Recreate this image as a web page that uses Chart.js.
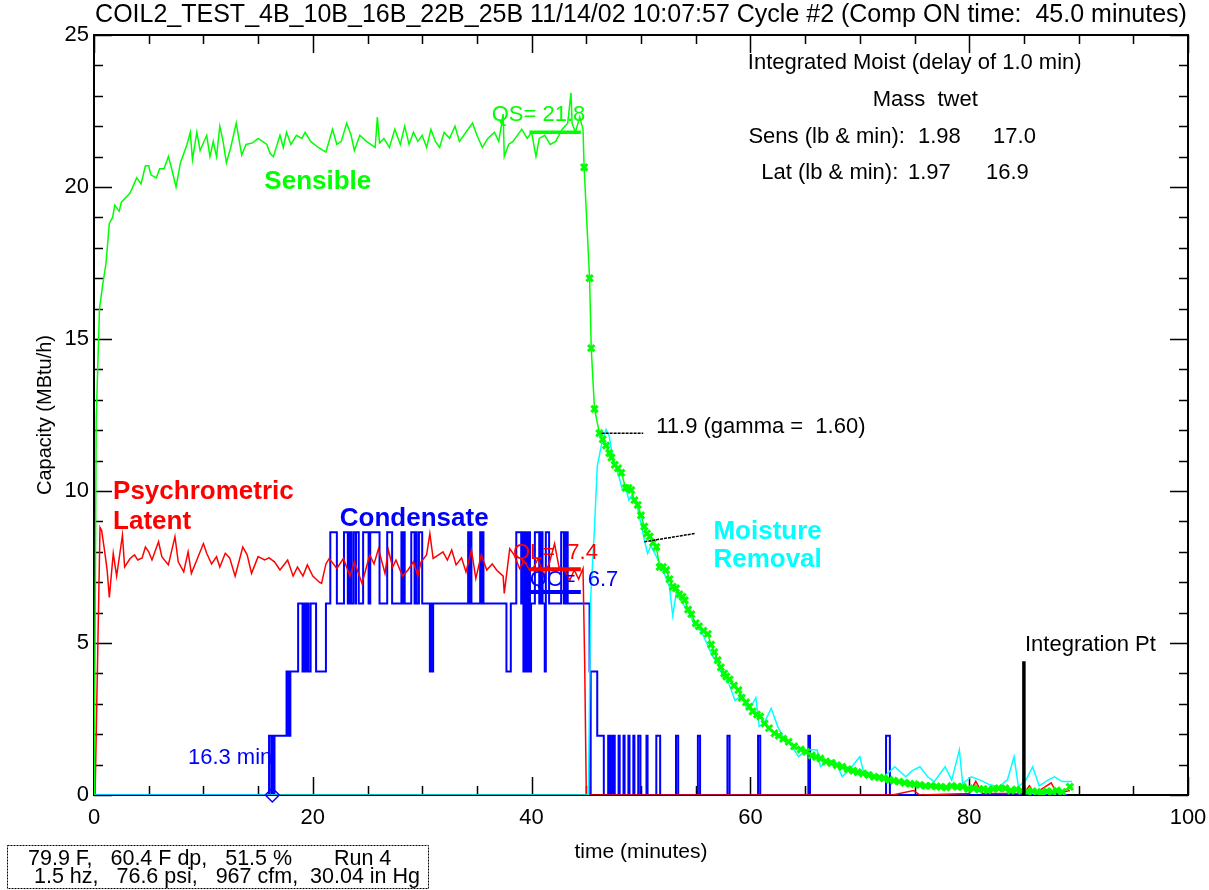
<!DOCTYPE html>
<html>
<head>
<meta charset="utf-8">
<title>COIL2_TEST Cycle #2</title>
<script src="https://cdn.jsdelivr.net/npm/chart.js@4.4.1/dist/chart.umd.min.js"></script>
<style>
  html, body { margin: 0; padding: 0; background: #fff; }
  canvas { display: block; }
</style>
</head>
<body>
<canvas id="chart" width="1209" height="890"></canvas>
<script>
// time in minutes, capacity in MBtu/h
const sensT = [0, 0.05, 0.2, 0.5, 0.8, 1.1, 1.4, 1.7, 1.9, 2.3, 2.5, 3.3, 3.9, 4.3, 4.7, 5.0, 5.2, 5.7, 6.0, 6.4,
    6.8, 7.1, 7.5, 7.9, 8.5, 8.8, 9.0, 9.4, 9.7, 10.3, 10.6, 10.9, 11.2, 11.5, 11.8, 12.1, 12.5, 13.0, 13.5, 13.9,
    14.5, 15.0, 15.4, 15.8, 16.1, 16.4, 17.0, 17.3, 17.6, 18.0, 18.5, 19.0, 19.3, 19.8, 20.5, 21.2, 21.8, 22.2, 22.6, 23.1,
    23.5, 23.8, 24.3, 24.9, 25.7, 25.9, 26.1, 26.5, 27.0, 27.5, 28.0, 28.4, 28.8, 29.2, 29.6, 30.0, 30.4, 30.8, 31.2, 31.6,
    32.0, 32.5, 33.0, 33.4, 34.0, 34.6, 35.0, 35.5, 36.0, 36.6, 37.0, 37.4, 37.5, 37.9, 38.3, 38.7, 39.1, 39.6, 40.0, 40.4,
    40.7, 41.2, 41.7, 42.2, 42.8, 43.3, 43.6, 43.7, 44.0, 44.4, 44.7, 44.8];
const sensV = [0, 2, 12.3, 16.0, 16.8, 17.5, 18.8, 19.0, 19.4, 19.2, 19.5, 19.8, 20.3, 20.1, 20.7, 20.7, 20.4, 20.3, 20.6, 20.6,
    21.0, 20.6, 20.0, 20.8, 21.4, 21.8, 20.9, 21.8, 21.2, 21.7, 21.0, 21.5, 21.0, 22.0, 21.5, 20.8, 21.3, 22.1, 21.05, 21.4,
    21.45, 21.6, 21.5, 21.4, 21.1, 21.0, 21.7, 21.3, 21.8, 21.4, 21.7, 21.6, 21.8, 21.5, 21.3, 21.15, 21.9, 21.4, 21.5, 22.1,
    21.7, 21.2, 21.7, 21.5, 21.3, 22.3, 21.45, 21.6, 21.3, 21.9, 21.4, 22.0, 21.4, 21.8, 21.5, 21.7, 21.3, 21.9, 21.5, 21.3,
    21.8, 21.6, 22.0, 21.5, 21.8, 22.1, 21.7, 21.3, 21.6, 21.8, 21.5, 22.4, 21.0, 21.4, 21.5, 21.7, 21.9, 21.6, 21.8, 21.0,
    21.6, 21.7, 21.4, 21.5, 21.9, 22.1, 23.1, 22.1, 21.8, 22.3, 21.9, 20.65];

// sensible after compressor off (drawn with markers)
const sensOffT = [44.8, 45.3, 45.45, 45.75, 46.2, 46.5, 46.8, 47.1, 47.3, 47.6, 47.9, 48.2, 48.6, 48.85, 49.1, 49.4, 49.7, 50.0,
    50.3, 50.55, 50.8, 51.1, 51.4, 51.7, 52.0, 52.3, 52.6, 52.9, 53.2, 53.5, 53.8, 54.0, 54.3, 54.6, 55.0, 55.3, 55.7, 56.1,
    56.4, 56.7, 57.0, 57.3, 57.6, 57.8, 58.1, 58.5, 58.9, 59.2, 59.6, 59.9, 60.2, 60.6, 60.9, 61.3, 61.7, 62.2, 62.6, 63.0,
    63.5, 64.0, 64.6, 65.1, 65.6, 66.0, 66.4, 66.9, 67.4, 67.9, 68.4, 68.9, 69.4, 69.8, 70.3, 70.8, 71.3, 71.8, 72.2, 72.7,
    73.1, 73.6, 74.1, 74.6, 75.0, 75.5, 76.0, 76.5, 77.0, 77.4, 77.9, 78.4, 78.9, 79.4, 79.9, 80.4, 80.9, 81.3, 81.7, 82.2,
    82.7, 83.3, 83.8, 84.3, 84.8, 85.3, 85.8, 86.2, 86.6, 87.1, 87.6, 88.0, 88.5, 89.2];
const sensOffV = [20.65, 17.0, 14.7, 12.7, 11.9, 11.7, 11.5, 11.25, 11.1, 10.86, 10.75, 10.6, 10.1, 10.1, 10.03, 9.7, 9.54, 9.2,
    8.83, 8.6, 8.5, 8.3, 8.16, 7.5, 7.5, 7.4, 7.1, 6.85, 6.8, 6.6, 6.52, 6.41, 6.1, 5.95, 5.65, 5.55, 5.4, 5.3,
    4.95, 4.7, 4.44, 4.2, 4.0, 3.9, 3.8, 3.6, 3.45, 3.2, 3.05, 2.9, 2.75, 2.65, 2.58, 2.35, 2.2, 2.03, 1.95, 1.85,
    1.75, 1.6, 1.5, 1.42, 1.3, 1.25, 1.2, 1.1, 1.05, 0.98, 0.93, 0.85, 0.8, 0.75, 0.71, 0.66, 0.6, 0.58, 0.55, 0.5,
    0.47, 0.44, 0.4, 0.37, 0.35, 0.33, 0.3, 0.3, 0.28, 0.27, 0.25, 0.3, 0.27, 0.27, 0.2, 0.22, 0.18, 0.2, 0.16, 0.2,
    0.22, 0.22, 0.15, 0.18, 0.14, 0.11, 0.12, 0.1, 0.08, 0.12, 0.1, 0.15, 0.1, 0.27];

const latT = [0, 0.1, 0.55, 0.7, 1.0, 1.2, 1.4, 1.76, 2.07, 2.6, 2.8, 3.3, 3.7, 4.0, 4.4, 4.7, 5.0, 5.3, 5.9, 6.2,
    6.8, 7.4, 7.7, 8.2, 8.6, 8.9, 9.4, 10.0, 10.3, 10.75, 11.2, 11.5, 12.0, 12.4, 12.9, 13.6, 14.0, 14.4, 15.0, 15.6,
    16.0, 16.5, 17.0, 17.7, 18.2, 18.6, 19.1, 19.5, 20.0, 20.6, 20.8, 21.2, 21.5, 22.2, 22.8, 23.4, 23.8, 24.5, 25.2, 25.6,
    26.0, 26.6, 26.9, 27.3, 27.6, 28.2, 28.7, 29.2, 29.6, 29.9, 30.4, 30.7, 31.0, 31.5, 31.9, 32.3, 32.7, 33.1, 33.6, 34.0,
    34.5, 34.9, 35.4, 35.9, 36.4, 36.8, 37.4, 37.5, 38.0, 38.4, 38.9, 39.3, 39.8, 40.2, 40.6, 41.1, 41.6, 42.1, 42.5, 43.0,
    43.5, 43.9, 44.3, 44.7, 44.85, 45.0, 73.0, 74.9, 75.5, 80.0, 80.6, 81.2, 85.0, 85.5, 86.0, 87.5, 88.0, 89.2];
const latV = [0, 0, 8.8, 8.7, 7.95, 7.4, 6.5, 7.95, 7.2, 8.55, 7.5, 7.78, 7.9, 7.73, 7.8, 8.16, 8.0, 7.73, 8.33, 7.84,
    7.57, 8.5, 7.67, 7.34, 8.0, 7.29, 7.73, 8.27, 7.95, 7.6, 7.84, 7.5, 7.95, 7.8, 7.2, 8.16, 7.9, 7.29, 7.84, 7.73,
    7.8, 7.67, 7.4, 7.73, 7.2, 7.5, 7.2, 7.57, 7.2, 7.0, 6.96, 7.6, 7.78, 7.45, 7.78, 7.2, 7.67, 6.96, 7.9, 7.6,
    8.1, 7.29, 8.06, 7.5, 7.73, 7.2, 7.4, 7.67, 7.2, 7.67, 7.9, 8.6, 7.78, 7.9, 8.0, 7.73, 8.06, 7.57, 7.8, 7.34,
    8.06, 7.12, 7.9, 7.4, 7.6, 7.4, 7.2, 6.63, 8.1, 7.9, 7.45, 7.7, 7.4, 7.5, 7.78, 7.2, 7.6, 8.27, 7.5, 7.4,
    7.07, 7.4, 7.1, 7.45, 4.4, 0, 0, 0.15, 0, 0.05, 0.45, 0.05, 0.05, 0.3, 0.05, 0.4, 0.05, 0.15];

const moistT = [0, 45.2, 45.4, 45.75, 46.0, 46.4, 46.8, 47.1, 47.3, 47.6, 48.0, 48.3, 48.6, 48.9, 49.2, 49.7, 50.0, 50.3, 50.6, 50.9,
    51.4, 52.0, 52.6, 52.9, 53.2, 53.5, 54.0, 54.5, 55.0, 55.5, 56.0, 56.5, 57.0, 57.5, 58.0, 58.6, 59.2, 59.7, 60.2, 60.5,
    60.8, 61.3, 61.9, 62.5, 63.0, 63.8, 64.4, 65.2, 66.1, 66.4, 67.0, 67.7, 68.4, 69.2, 70.0, 70.3, 71.0, 71.9, 72.5, 73.2,
    74.2, 74.8, 75.5, 76.2, 76.8, 77.8, 78.4, 79.1, 79.4, 80.2, 81.0, 81.8, 82.7, 83.5, 84.1, 84.5, 85.2, 85.8, 86.4, 87.2,
    87.8, 88.5, 89.4];
const moistV = [0, 0, 6.5, 8.8, 10.8, 11.55, 12.03, 11.8, 11.35, 10.9, 10.46, 10.03, 10.1, 9.7, 9.9, 9.4, 8.93, 8.4, 7.95, 8.2,
    7.85, 7.4, 6.85, 5.9, 6.6, 6.5, 6.2, 5.9, 5.5, 5.4, 5.0, 4.6, 4.3, 3.9, 3.7, 3.1, 3.3, 2.8, 3.0, 3.2,
    2.25, 2.4, 2.85, 2.25, 1.9, 1.6, 1.26, 1.5, 1.48, 0.93, 1.1, 1.15, 0.6, 0.9, 1.26, 0.82, 0.7, 0.49, 0.7, 0.93,
    0.6, 0.8, 0.93, 0.6, 0.44, 0.93, 0.49, 1.48, 0.38, 0.6, 0.49, 0.35, 0.27, 0.5, 1.26, 0.27, 0.5, 0.93, 0.3, 0.49,
    0.6, 0.44, 0.44];

// condensate: value switches to condV[i] at condT[i]
const condT = [0, 16.0, 16.2, 16.3, 16.4, 16.5, 17.6, 17.7, 17.75, 17.8, 17.85, 17.9, 17.95, 18.66, 19.06, 19.12, 19.18, 19.24,
    19.3, 19.42, 19.6, 19.8, 20.3, 21.2, 21.6, 22.2, 22.85, 23.2, 23.3, 23.4, 23.45, 23.5, 23.7, 23.9, 23.95, 24.2,
    24.6, 25.1, 25.25, 26.1, 26.8, 27.25, 28.1, 28.2, 28.25, 28.4, 29.0, 29.3, 29.35, 29.5, 29.7, 30.0, 30.7, 30.8,
    30.85, 31.0, 34.2, 34.3, 34.35, 34.5, 35.3, 35.4, 35.45, 35.6, 37.7, 38.1, 38.6, 39.05, 39.15, 39.25, 39.35, 39.45,
    39.55, 39.65, 39.75, 39.85, 39.95, 40.3, 40.7, 40.75, 40.85, 40.9, 41.0, 41.2, 41.3, 41.6, 42.7, 42.95, 43.0, 43.1,
    43.15, 43.3, 45.3, 45.35, 45.4, 46.0, 46.6, 47.0, 47.1, 47.15, 47.25, 47.3, 47.45, 47.5, 47.6, 47.95, 48.05, 48.4,
    48.5, 48.85, 48.95, 49.3, 49.4, 49.75, 49.95, 50.5, 50.6, 51.4, 51.75, 53.2, 53.4, 55.2, 55.4, 57.9, 58.1, 60.7,
    60.9, 65.3, 65.45, 72.4, 72.75, 89.0];
const condV = [0, 1.95, 0, 1.95, 0, 1.95, 4.06, 1.95, 4.06, 1.95, 4.06, 1.95, 4.06, 6.3, 4.06, 6.3, 4.06, 6.3,
    4.06, 6.3, 4.06, 6.3, 4.06, 6.3, 8.64, 6.3, 8.64, 6.3, 8.64, 6.3, 8.64, 6.3, 8.64, 6.3, 8.64, 6.3,
    8.64, 6.3, 8.64, 6.3, 8.64, 6.3, 8.64, 6.3, 8.64, 6.3, 8.64, 6.3, 8.64, 6.3, 8.64, 6.3, 4.06, 6.3,
    4.06, 6.3, 8.64, 6.3, 8.64, 6.3, 8.64, 6.3, 8.64, 6.3, 4.06, 6.3, 8.64, 6.3, 8.64, 4.06, 8.64, 4.06,
    8.64, 4.06, 8.64, 4.06, 6.3, 8.64, 6.3, 8.64, 6.3, 8.64, 6.3, 4.06, 8.64, 6.3, 8.64, 6.3, 8.64, 6.3,
    8.64, 6.3, 4.06, 0, 4.06, 1.95, 0, 1.95, 0, 1.95, 0, 1.95, 0, 1.95, 0, 1.95, 0, 1.95,
    0, 1.95, 0, 1.95, 0, 1.95, 0, 1.95, 0, 1.95, 0, 1.95, 0, 1.95, 0, 1.95, 0, 1.95,
    0, 1.95, 0, 1.95, 0, 0];

// steady-state averages over the last minutes of the ON period
const avgT = [39.8, 44.5];
const qsAvg = [21.8, 21.8];
const qlAvg = [7.43, 7.43];
const qcAvg = [6.68, 6.68];

const onsetT = [16.3];          // condensate onset
const integT = [85, 85];        // integration point
const integV = [0, 4.4];

const gammaT = [46.4, 50.2];
const gammaV = [11.9, 11.9];
const moistLeadT = [50.3, 54.9];
const moistLeadV = [8.33, 8.6];

const xTicks = [0, 20, 40, 60, 80, 100];
const yTicks = [0, 5, 10, 15, 20, 25];

const GREEN = '#00ff00', RED = '#ff0000', BLUE = '#0000ff', CYAN = '#00ffff';
const FONT = "'Liberation Sans', Arial, Helvetica, sans-serif";
Chart.defaults.font.family = FONT;
Chart.defaults.color = '#000';

const pts = (ts, vs) => ts.map((t, i) => ({ x: t, y: vs[i] }));

// frame with inward ticks on all four sides
const frameTicks = {
    id: 'frameTicks',
    beforeDatasetsDraw(chart) {
        const { ctx, chartArea: a, scales: { x, y } } = chart;
        ctx.save();
        ctx.strokeStyle = '#000';
        ctx.lineWidth = 1.5;
        ctx.beginPath();
        for (let t = xTicks[0]; t <= xTicks[xTicks.length - 1]; t += 5) {
            const px = Math.round(x.getPixelForValue(t)) + 0.5;
            const len = t % 20 === 0 ? 18 : 9;
            ctx.moveTo(px, a.bottom); ctx.lineTo(px, a.bottom - len);
            ctx.moveTo(px, a.top); ctx.lineTo(px, a.top + len);
        }
        for (let v = yTicks[0]; v <= yTicks[yTicks.length - 1]; v += 1) {
            const py = Math.round(y.getPixelForValue(v)) + 0.5;
            const len = v % 5 === 0 ? 18 : 9;
            ctx.moveTo(a.left, py); ctx.lineTo(a.left + len, py);
            ctx.moveTo(a.right, py); ctx.lineTo(a.right - len, py);
        }
        ctx.stroke();
        ctx.lineWidth = 2;
        ctx.strokeRect(a.left, a.top, a.right - a.left, a.bottom - a.top);
        ctx.restore();
    }
};

// text notes, placed in data units
const notes = [
    { t: 20.46, v: 20.17, text: 'Sensible', color: GREEN, bold: true, align: 'center' },
    { t: 1.74, v: 9.98, text: 'Psychrometric', color: RED, bold: true },
    { t: 1.74, v: 8.99, text: 'Latent', color: RED, bold: true },
    { t: 22.47, v: 9.10, text: 'Condensate', color: BLUE, bold: true },
    { t: 56.62, v: 8.66, text: 'Moisture', color: CYAN, bold: true },
    { t: 56.62, v: 7.73, text: 'Removal', color: CYAN, bold: true },
    { t: 16.3, v: 1.21, text: '16.3 min', color: BLUE, align: 'right' },
    { t: 51.39, v: 12.12, text: '11.9 (gamma =  1.60)', color: '#000' },
    { t: 85.1, v: 4.93, text: 'Integration Pt', color: '#000' },
    { t: 36.35, v: 22.37, text: 'QS= 21.8', color: GREEN },
    { t: 38.29, v: 7.95, text: 'QL=  7.4', color: RED },
    { t: 39.82, v: 7.07, text: 'QC=  6.7', color: BLUE },
    { t: 75.02, v: 24.07, text: 'Integrated Moist (delay of 1.0 min)', color: '#000', align: 'center' },
    { t: 75.98, v: 22.86, text: 'Mass  twet', color: '#000', align: 'center' },
    { t: 59.82, v: 21.65, text: 'Sens (lb & min):', color: '#000' },
    { t: 75.32, v: 21.65, text: '1.98', color: '#000' },
    { t: 82.18, v: 21.65, text: '17.0', color: '#000' },
    { t: 61.0, v: 20.46, text: 'Lat (lb & min):', color: '#000' },
    { t: 74.4, v: 20.46, text: '1.97', color: '#000' },
    { t: 81.53, v: 20.46, text: '16.9', color: '#000' }
];

const noteLabels = {
    id: 'noteLabels',
    afterDatasetsDraw(chart) {
        const { ctx, scales: { x, y } } = chart;
        ctx.save();
        ctx.textBaseline = 'middle';
        notes.forEach(n => {
            ctx.font = (n.bold ? 'bold 26px ' : '22px ') + FONT;
            ctx.fillStyle = n.color;
            ctx.textAlign = n.align || 'left';
            ctx.fillText(n.text, x.getPixelForValue(n.t), y.getPixelForValue(n.v));
        });
        ctx.restore();
    },
    afterDraw(chart) {
        // run conditions box under the axis
        const { ctx } = chart;
        ctx.save();
        ctx.strokeStyle = '#000';
        ctx.lineWidth = 1;
        ctx.setLineDash([2, 1]);
        ctx.strokeRect(7.5, 845.5, 421, 43);
        ctx.setLineDash([]);
        ctx.fillStyle = '#000';
        ctx.font = '21.5px ' + FONT;
        ctx.textBaseline = 'middle';
        ctx.textAlign = 'left';
        ctx.fillText('79.9 F,   60.4 F dp,   51.5 %       Run 4', 28, 859);
        ctx.fillText('1.5 hz,   76.6 psi,   967 cfm,  30.04 in Hg', 34, 877);
        ctx.restore();
    }
};

new Chart(document.getElementById('chart'), {
    type: 'line',
    data: {
        datasets: [
            { data: pts(avgT, qsAvg), borderColor: GREEN, borderWidth: 3.5, pointRadius: 0, order: 0 },
            { data: pts(avgT, qlAvg), borderColor: RED, borderWidth: 4, pointRadius: 0, order: 0 },
            { data: pts(avgT, qcAvg), borderColor: BLUE, borderWidth: 4, pointRadius: 0, order: 0 },
            { data: pts(integT, integV), borderColor: '#000', borderWidth: 3.5, pointRadius: 0, order: 0 },
            { data: pts(gammaT, gammaV), borderColor: '#000', borderWidth: 1.5, borderDash: [3, 1], pointRadius: 0, order: 0 },
            { data: pts(moistLeadT, moistLeadV), borderColor: '#000', borderWidth: 1.5, borderDash: [3, 1], pointRadius: 0, order: 0 },
            { data: pts(onsetT, [0]), showLine: false, pointStyle: 'rectRot', pointRadius: 7, pointBorderWidth: 1.5,
              pointBorderColor: BLUE, pointBackgroundColor: 'rgba(255,255,255,0)', clip: false, order: 0 },
            { data: pts(sensOffT, sensOffV), borderColor: GREEN, borderWidth: 1.5, pointStyle: 'crossRot', pointRadius: 4.5,
              pointBorderWidth: 3, pointBorderColor: GREEN, order: 1 },
            { data: pts(sensT, sensV), borderColor: GREEN, borderWidth: 1.5, pointRadius: 0, order: 1 },
            { data: pts(moistT, moistV), borderColor: CYAN, borderWidth: 1.5, pointRadius: 0, order: 2 },
            { data: pts(latT, latV), borderColor: RED, borderWidth: 1.5, pointRadius: 0, order: 3 },
            { data: pts(condT, condV), borderColor: BLUE, borderWidth: 2, pointRadius: 0, stepped: 'before', order: 4 }
        ]
    },
    options: {
        responsive: false,
        animation: false,
        devicePixelRatio: 1,
        layout: { padding: { left: 0, right: 21, top: 0, bottom: 0 } },
        plugins: {
            legend: { display: false },
            tooltip: { enabled: false },
            title: {
                display: true,
                fullSize: false,
                text: 'COIL2_TEST_4B_10B_16B_22B_25B 11/14/02 10:07:57 Cycle #2 (Comp ON time:  45.0 minutes)',
                color: '#000',
                font: { size: 25, weight: 'normal' },
                padding: { top: 0, bottom: 5 }
            }
        },
        scales: {
            x: {
                type: 'linear', min: 0, max: 100,
                afterFit: s => { s.height = 95; s.paddingLeft = 0; s.paddingRight = 0; },
                afterBuildTicks: s => { s.ticks = xTicks.map(v => ({ value: v })); },
                ticks: { font: { size: 22 }, padding: 10, maxRotation: 0 },
                grid: { display: false, drawTicks: false },
                border: { display: false },
                title: { display: true, text: 'time (minutes)', font: { size: 21 }, padding: { top: 0, bottom: 25 } }
            },
            y: {
                type: 'linear', min: 0, max: 25,
                afterFit: s => { s.width = 94; s.paddingTop = 0; s.paddingBottom = 0; },
                afterBuildTicks: s => { s.ticks = yTicks.map(v => ({ value: v })); },
                ticks: { font: { size: 22 }, padding: 5 },
                grid: { display: false, drawTicks: false },
                border: { display: false },
                title: { display: true, text: 'Capacity (MBtu/h)', font: { size: 20 }, padding: { top: 33, bottom: 0 } }
            }
        }
    },
    plugins: [frameTicks, noteLabels]
});
</script>
</body>
</html>
